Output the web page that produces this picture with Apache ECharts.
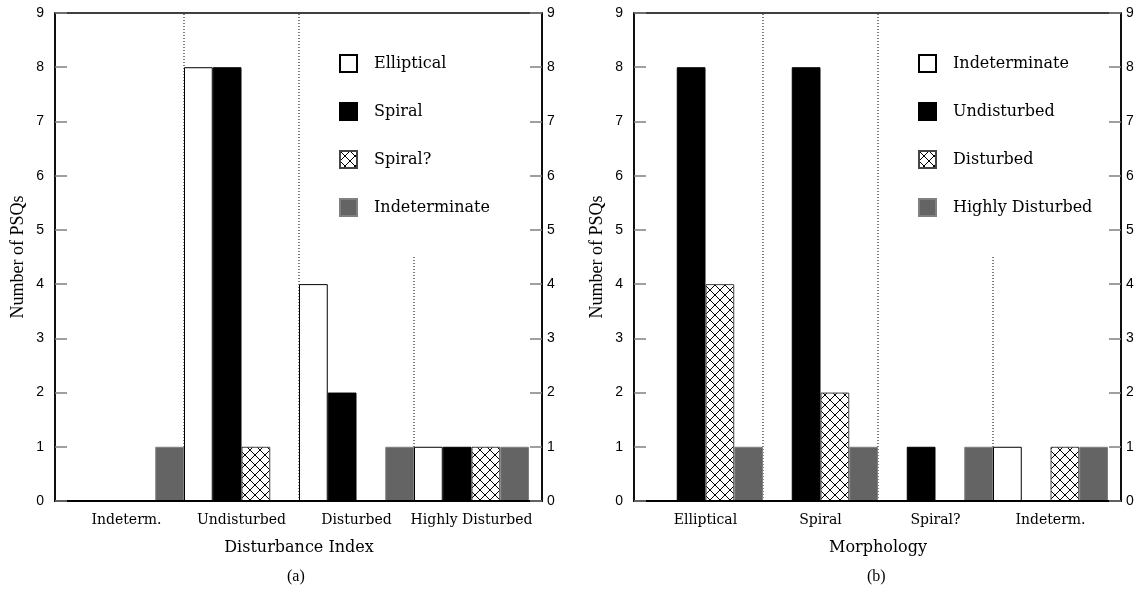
<!DOCTYPE html>
<html>
<head>
<meta charset="utf-8">
<script src="https://cdn.jsdelivr.net/npm/echarts@6/dist/echarts.min.js"></script>
<style>
  html, body { margin: 0; padding: 0; background: #fff; }
  #chart { width: 1140px; height: 589px; }
</style>
</head>
<body>
<div id="chart"></div>
<script>
// ---- Data: panel (a) Disturbance Index ----
const categoriesA = ['Indeterm.', 'Undisturbed', 'Disturbed', 'Highly Disturbed'];
const ellipticalA = [0, 8, 4, 1];
const spiralA = [0, 8, 2, 1];
const spiralQA = [0, 1, 0, 1];
const indeterminateA = [1, 0, 1, 1];

// ---- Data: panel (b) Morphology ----
const categoriesB = ['Elliptical', 'Spiral', 'Spiral?', 'Indeterm.'];
const indeterminateB = [0, 0, 0, 1];
const undisturbedB = [8, 8, 1, 0];
const disturbedB = [4, 2, 0, 1];
const highlyDisturbedB = [1, 1, 1, 1];

const yMin = 0, yMax = 9, yStep = 1;

// ---- Styles ----
function hatchPattern() {
  const c = document.createElement('canvas');
  c.width = 10; c.height = 10;
  const ctx = c.getContext('2d');
  ctx.fillStyle = '#fff';
  ctx.fillRect(0, 0, 10, 10);
  ctx.strokeStyle = '#000';
  ctx.lineWidth = 1;
  ctx.beginPath();
  ctx.moveTo(0, 0); ctx.lineTo(10, 10);
  ctx.moveTo(10, 0); ctx.lineTo(0, 10);
  ctx.stroke();
  return { image: c, repeat: 'repeat' };
}
const hatch = hatchPattern();
const styles = [
  { color: '#ffffff', borderColor: '#000000', borderWidth: 1 },
  { color: '#000000', borderColor: '#000000', borderWidth: 1 },
  { color: hatch, borderColor: '#444444', borderWidth: 1 },
  { color: '#646464', borderColor: '#808080', borderWidth: 1 }
];

const tickFont = { fontFamily: 'Liberation Sans', fontSize: 14, color: '#000' };
const serif = 'DejaVu Serif';

function frameX(gridIndex) {
  return {
    type: 'value', gridIndex, min: 0, max: 1, z: 10,
    axisLine: { show: true, lineStyle: { color: '#000', width: 2 } },
    axisTick: { show: false }, axisLabel: { show: false }, splitLine: { show: false }
  };
}
function catX(gridIndex, cats, name) {
  return {
    type: 'category', gridIndex, data: cats, position: 'bottom',
    axisLine: { show: false }, axisTick: { show: false },
    axisLabel: { interval: 0, margin: 12, fontFamily: serif, fontSize: 14, color: '#000' },
    name, nameLocation: 'middle', nameGap: 39,
    nameTextStyle: { fontFamily: serif, fontSize: 16, color: '#000' }
  };
}
function sepX(gridIndex, n) {
  return { type: 'value', gridIndex, min: 0, max: n, show: false, position: 'top' };
}
function frameY(gridIndex, pos, name) {
  const o = {
    type: 'value', gridIndex, position: pos, min: yMin, max: yMax, interval: yStep, z: 10,
    axisLine: { show: true, lineStyle: { color: '#000', width: 1.5 } },
    axisTick: { show: true, inside: true, length: 12, lineStyle: { color: '#808080', width: 1.5 } },
    axisLabel: Object.assign({ margin: pos === 'left' ? 11 : 5 }, tickFont),
    splitLine: { show: false }
  };
  if (name) {
    o.name = name; o.nameLocation = 'middle'; o.nameRotate = 90; o.nameGap = 28;
    o.nameTextStyle = { fontFamily: 'Liberation Serif', fontSize: 18, color: '#000' };
  }
  return o;
}
function hiddenY(gridIndex) {
  return { type: 'value', gridIndex, min: yMin, max: yMax, show: false };
}

function barSeries(prefix, names, arrays, xIdx, yIdx) {
  return names.map((nm, i) => ({
    type: 'bar', name: prefix + '|' + nm, data: arrays[i],
    xAxisIndex: xIdx, yAxisIndex: yIdx,
    barGap: '0%', barCategoryGap: '0%',
    itemStyle: styles[i], silent: true, emphasis: { disabled: true }
  }));
}
function sepSeries(n, xIdx, yIdx) {
  const out = [];
  for (let i = 1; i < n; i++) {
    const top = (i === n - 1) ? 4.5 : yMax;
    out.push({
      type: 'line', xAxisIndex: xIdx, yAxisIndex: yIdx, symbol: 'none', silent: true,
      data: [[i, yMin], [i, top]],
      lineStyle: { color: '#000', width: 1, type: [1, 2] }, z: 1
    });
  }
  return out;
}

const namesA = ['Elliptical', 'Spiral', 'Spiral?', 'Indeterminate'];
const namesB = ['Indeterminate', 'Undisturbed', 'Disturbed', 'Highly Disturbed'];

function legend(prefix, names, left) {
  return {
    data: names.map(n => prefix + '|' + n), left, top: 54, orient: 'vertical', padding: 0,
    itemWidth: 17, itemHeight: 17, itemGap: 29, icon: 'rect', selectedMode: false,
    formatter: name => name.split('|')[1],
    textStyle: { fontFamily: serif, fontSize: 16, color: '#000', padding: [0, 0, 0, 12] }
  };
}

const frameGrid = (left) => ({ left, top: 13, width: 487, height: 488, show: true, borderColor: '#000', borderWidth: 1.5, backgroundColor: 'transparent' });
const barGrid = (left) => ({ left, top: 13, width: 460, height: 488 });

const option = {
  animation: false,
  backgroundColor: '#fff',
  grid: [frameGrid(55), barGrid(69), frameGrid(634), barGrid(648)],
  xAxis: [frameX(0), catX(1, categoriesA, 'Disturbance Index'), sepX(1, categoriesA.length),
          frameX(2), catX(3, categoriesB, 'Morphology'), sepX(3, categoriesB.length)],
  yAxis: [frameY(0, 'left', 'Number of PSQs'), frameY(0, 'right'), hiddenY(1),
          frameY(2, 'left', 'Number of PSQs'), frameY(2, 'right'), hiddenY(3)],
  legend: [legend('a', namesA, 339), legend('b', namesB, 918)],
  graphic: [
    { type: 'text', left: 287, top: 569, style: { text: '(a)', font: '16px "Liberation Serif"', fill: '#000' } },
    { type: 'text', left: 867, top: 569, style: { text: '(b)', font: '16px "Liberation Serif"', fill: '#000' } }
  ],
  series: [].concat(
    sepSeries(categoriesA.length, 2, 2),
    barSeries('a', namesA, [ellipticalA, spiralA, spiralQA, indeterminateA], 1, 2),
    sepSeries(categoriesB.length, 5, 5),
    barSeries('b', namesB, [indeterminateB, undisturbedB, disturbedB, highlyDisturbedB], 4, 5)
  )
};

const chart = echarts.init(document.getElementById('chart'), null, { renderer: 'canvas' });
chart.setOption(option);
</script>
</body>
</html>
